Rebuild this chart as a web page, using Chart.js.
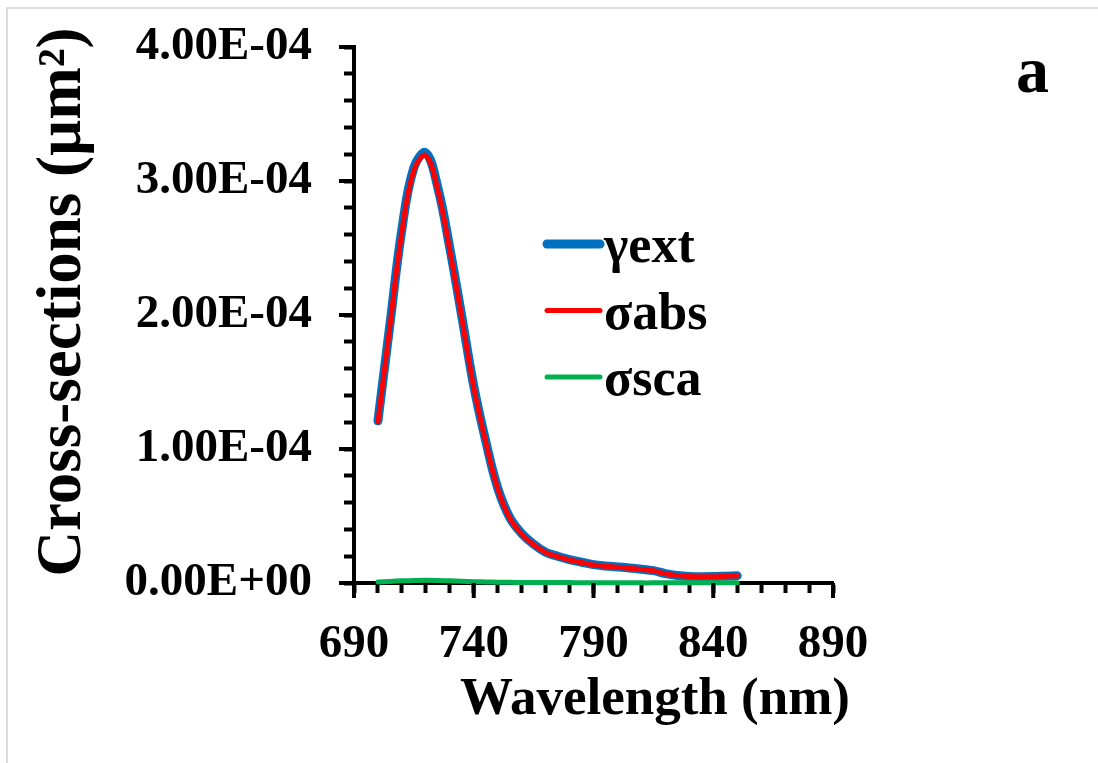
<!DOCTYPE html>
<html lang="en">
<head>
    <meta charset="UTF-8">
    <title>Cross-sections vs Wavelength</title>
    <style>
        body {
            margin: 0;
            background-color: #fff;
        }
        .frame {
            position: relative;
            width: 1098px;
            height: 763px;
            overflow: hidden;
        }
        .frame::before {
            content: '';
            position: absolute;
            left: 6px;
            top: 7px;
            right: -10px;
            bottom: -10px;
            border-left: 2px solid #dcdcdc;
            border-top: 2px solid #dcdcdc;
        }
        canvas {
            position: absolute;
            left: 0;
            top: 0;
        }
    </style>
    <script src="https://cdn.jsdelivr.net/npm/chart.js"></script>
</head>
<body>
<div class="frame">
    <canvas id="chart" width="1098" height="763"></canvas>
</div>

<script>
    // Values (cross-sections in um^2)
    const wavelengths = [700, 705, 710, 715, 720, 725, 730, 735, 740, 745, 750, 755, 760, 765, 770, 775,
        780, 785, 790, 795, 800, 805, 810, 815, 820, 825, 830, 835, 840, 845, 850];
    const extValues = [1.21e-4, 1.93e-4, 2.64e-4, 3.10e-4, 3.21e-4, 2.95e-4, 2.50e-4, 1.99e-4, 1.47e-4, 1.06e-4,
        0.71e-4, 0.49e-4, 0.37e-4, 0.29e-4, 0.23e-4, 0.20e-4, 0.175e-4, 0.155e-4, 0.137e-4, 0.127e-4,
        0.120e-4, 0.112e-4, 0.102e-4, 0.092e-4, 0.070e-4, 0.056e-4, 0.049e-4, 0.047e-4, 0.048e-4, 0.051e-4, 0.054e-4];
    const absValues = [1.202e-4, 1.918e-4, 2.624e-4, 3.081e-4, 3.190e-4, 2.931e-4, 2.484e-4, 1.977e-4, 1.460e-4, 1.052e-4,
        0.704e-4, 0.485e-4, 0.366e-4, 0.286e-4, 0.227e-4, 0.197e-4, 0.172e-4, 0.153e-4, 0.135e-4, 0.125e-4,
        0.118e-4, 0.110e-4, 0.101e-4, 0.091e-4, 0.069e-4, 0.055e-4, 0.048e-4, 0.046e-4, 0.047e-4, 0.050e-4, 0.053e-4];
    const scaValues = [0.008e-4, 0.012e-4, 0.016e-4, 0.019e-4, 0.020e-4, 0.019e-4, 0.016e-4, 0.013e-4, 0.010e-4, 0.008e-4,
        0.006e-4, 0.005e-4, 0.004e-4, 0.004e-4, 0.003e-4, 0.003e-4, 0.003e-4, 0.002e-4, 0.002e-4, 0.002e-4,
        0.002e-4, 0.002e-4, 0.001e-4, 0.001e-4, 0.001e-4, 0.001e-4, 0.001e-4, 0.001e-4, 0.001e-4, 0.001e-4, 0.001e-4];
    const seriesLabels = ['γext', 'σabs', 'σsca'];
    const xTickLabels = [690, 740, 790, 840, 890];
    const yTickLabels = [0, 1e-4, 2e-4, 3e-4, 4e-4];
    const xTitle = 'Wavelength (nm)';
    const yTitle = 'Cross-sections (µm²)';

    Chart.defaults.font.family = '"Liberation Serif", "Times New Roman", serif';
    Chart.defaults.font.weight = 'bold';
    Chart.defaults.color = '#000';

    function toPoints(values) {
        return wavelengths.map((w, i) => ({ x: w, y: values[i] }));
    }

    function isMajorY(v) {
        return yTickLabels.some(t => Math.abs(t - v) < 1e-9);
    }

    // 4.00E-04 style labels
    function sciLabel(v) {
        const parts = v.toExponential(2).split('e');
        const exp = parseInt(parts[1], 10);
        return parts[0] + 'E' + (exp < 0 ? '-' : '+') + String(Math.abs(exp)).padStart(2, '0');
    }

    // longer major ticks, axis titles, the legend and the panel letter
    const extras = {
        id: 'extras',
        afterDraw(chart) {
            const { ctx, chartArea, scales: { x, y } } = chart;
            ctx.save();
            ctx.strokeStyle = '#000';
            ctx.lineWidth = 4;
            ctx.beginPath();
            x.ticks.forEach(t => {
                if (xTickLabels.includes(t.value)) {
                    const px = x.getPixelForValue(t.value);
                    ctx.moveTo(px, chartArea.bottom);
                    ctx.lineTo(px, chartArea.bottom + 15);
                }
            });
            y.ticks.forEach(t => {
                if (isMajorY(t.value)) {
                    const py = y.getPixelForValue(t.value);
                    ctx.moveTo(chartArea.left, py);
                    ctx.lineTo(chartArea.left - 15, py);
                }
            });
            ctx.stroke();

            ctx.fillStyle = '#000';

            // axis titles
            ctx.font = 'bold 53px "Liberation Serif"';
            ctx.textAlign = 'right';
            ctx.textBaseline = 'middle';
            ctx.fillText(xTitle, 850, 700);

            ctx.save();
            ctx.translate(64, 302);
            ctx.rotate(-Math.PI / 2);
            ctx.font = 'bold 63px "Liberation Serif"';
            ctx.textAlign = 'center';
            ctx.fillText(yTitle, 0, 0);
            ctx.restore();

            // legend
            ctx.font = 'bold 52px "Liberation Serif"';
            ctx.textAlign = 'left';
            ctx.textBaseline = 'alphabetic';
            ctx.lineCap = 'round';
            chart.data.datasets.forEach((ds, i) => {
                const ly = 244 + i * 66.5;
                ctx.beginPath();
                ctx.strokeStyle = ds.borderColor;
                ctx.lineWidth = ds.borderWidth;
                ctx.moveTo(547, ly);
                ctx.lineTo(600, ly);
                ctx.stroke();
                ctx.fillText(ds.label, 604, ly + 18);
            });

            ctx.font = 'bold 66px "Liberation Serif"';
            ctx.fillText('a', 1016, 92);
            ctx.restore();
        }
    };

    const lineStyle = {
        pointRadius: 0,
        tension: 0.4,
        borderCapStyle: 'round',
        borderJoinStyle: 'round',
        fill: false,
        clip: false
    };

    new Chart(document.getElementById('chart').getContext('2d'), {
        type: 'line',
        data: {
            datasets: [
                { ...lineStyle, label: seriesLabels[0], data: toPoints(extValues), borderColor: '#0070C0', borderWidth: 9, order: 2 },
                { ...lineStyle, label: seriesLabels[1], data: toPoints(absValues), borderColor: '#FF0000', borderWidth: 5, order: 1 },
                { ...lineStyle, label: seriesLabels[2], data: toPoints(scaValues), borderColor: '#00B050', borderWidth: 5, order: 0 }
            ]
        },
        options: {
            responsive: false,
            animation: false,
            layout: { padding: { left: 0, top: 47, right: 265, bottom: 0 } },
            plugins: {
                legend: { display: false },
                tooltip: { enabled: false }
            },
            scales: {
                x: {
                    type: 'linear',
                    min: 690,
                    max: 890,
                    border: { color: '#000', width: 4 },
                    grid: { drawOnChartArea: false, tickLength: 10, tickWidth: 4, tickColor: '#000' },
                    ticks: {
                        stepSize: 10,
                        autoSkip: false,
                        maxRotation: 0,
                        padding: 24,
                        font: { size: 47 },
                        callback: v => xTickLabels.includes(v) ? String(v) : ''
                    },
                    afterFit: s => { s.height = 180; s.paddingLeft = 0; s.paddingRight = 0; }
                },
                y: {
                    min: 0,
                    max: 4e-4,
                    border: { color: '#000', width: 4 },
                    grid: { drawOnChartArea: false, tickLength: 10, tickWidth: 4, tickColor: '#000' },
                    ticks: {
                        stepSize: 2e-5,
                        autoSkip: false,
                        maxTicksLimit: 100,
                        padding: 32,
                        font: { size: 47 },
                        callback: v => isMajorY(v) ? sciLabel(v) : ''
                    },
                    afterFit: s => { s.width = 354; s.paddingTop = 0; s.paddingBottom = 0; }
                }
            }
        },
        plugins: [extras]
    });
</script>
</body>
</html>
